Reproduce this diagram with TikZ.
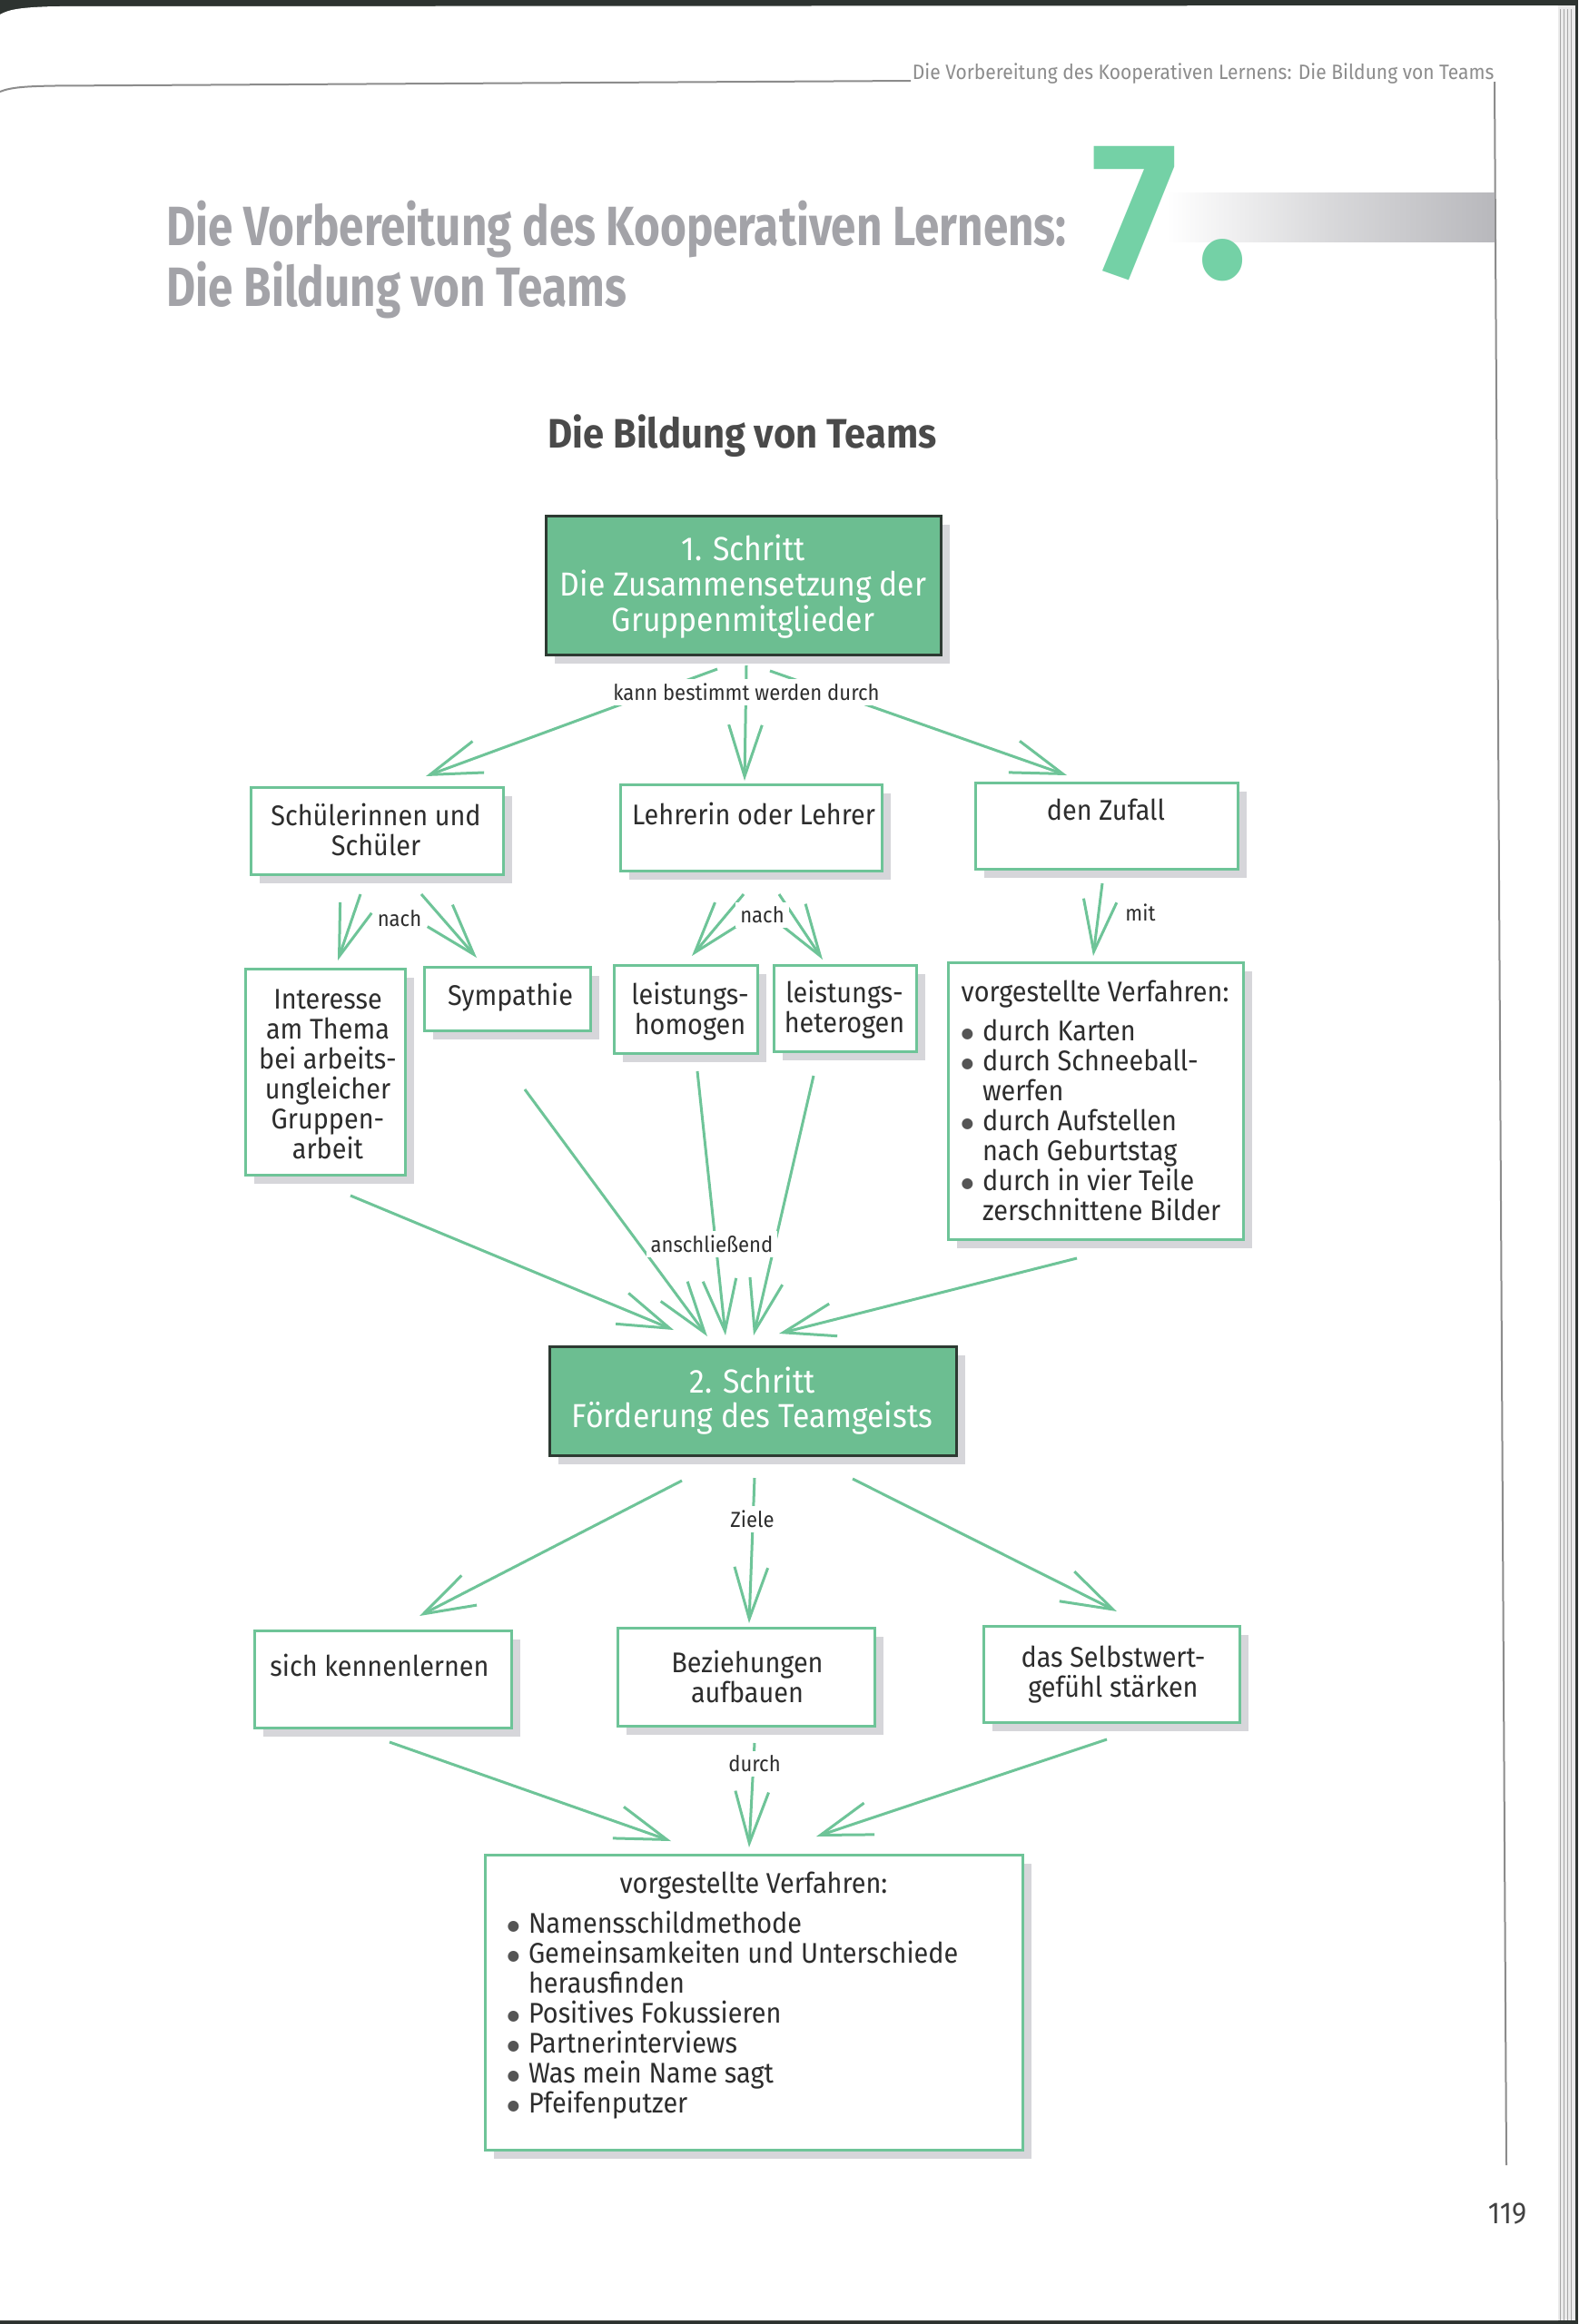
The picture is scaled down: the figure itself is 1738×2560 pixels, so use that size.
\documentclass[tikz,border=0pt]{standalone}
\usepackage{fontspec}
\usepackage{graphicx}
\setmainfont{Fira Sans}
\newfontfamily\bodyfont[FakeStretch=0.92]{Fira Sans}
\newfontfamily\titlefont[FakeStretch=0.81]{Fira Sans}
\newfontfamily\sevenfont[FakeStretch=0.95]{Fira Sans}
\newfontfamily\symfont{DejaVu Sans}
\usetikzlibrary{arrows.meta,shadows,fit}
\definecolor{boxgreen}{RGB}{108,190,145}
\definecolor{lgreen}{RGB}{110,196,152}
\definecolor{sevengreen}{RGB}{116,209,166}
\definecolor{darkb}{RGB}{45,58,50}
\definecolor{txtcol}{RGB}{45,45,45}
\definecolor{bulcol}{RGB}{85,85,85}
\definecolor{titlegray}{RGB}{163,163,168}
\definecolor{headgray}{RGB}{74,74,74}
\definecolor{shadowgray}{RGB}{214,214,218}
\definecolor{bargray}{RGB}{184,184,188}
\definecolor{rulegray}{RGB}{140,140,140}
\definecolor{scanbg}{RGB}{45,51,48}
\newcommand\mybul{\makebox[7pt][l]{\raisebox{0.9pt}{\textcolor{bulcol}{\symfont\fontsize{4.7pt}{4.7pt}\selectfont ●}}}}
\newcommand\myind{\hspace*{7pt}}
\tikzset{
  shadowed/.style={drop shadow={shadow xshift=3pt, shadow yshift=-3pt, fill=shadowgray, opacity=1}},
  wbox/.style={draw=lgreen, line width=0.9pt, fill=white, inner sep=0pt, shadowed},
  gbox/.style={draw=darkb, line width=0.9pt, fill=boxgreen, inner sep=0pt, shadowed},
  steptxt/.style={font=\bodyfont\fontsize{11pt}{11.6pt}\selectfont, text=white, align=center, inner sep=0pt},
  boxtxt/.style={font=\bodyfont\fontsize{9.4pt}{9.9pt}\selectfont, text=txtcol, align=center, inner sep=0pt},
  listtxt/.style={font=\bodyfont\fontsize{9.4pt}{9.9pt}\selectfont, text=txtcol, align=left, inner sep=0pt, anchor=west},
  lbl/.style={font=\bodyfont\fontsize{7.2pt}{8pt}\selectfont, text=txtcol, fill=white, inner sep=1.5pt},
  arr/.style={draw=lgreen, line width=0.9pt, -{Straight Barb[length=17pt,width=11pt,line width=0.9pt]}},
}
\begin{document}
\begin{tikzpicture}[x=0.3pt,y=-0.3pt]
\useasboundingbox (0,0) rectangle (1738,2560);
% scan background and page
\fill[scanbg] (0,0) rectangle (1738,2560);
\fill[white] (0,16) .. controls (10,10) and (25,8) .. (60,7) -- (1716,6) -- (1716,2556) -- (0,2556) -- cycle;
\fill[black!8] (1716,6) rectangle (1735,2556);
\foreach \xx in {1718,1722,1726,1730}
  \draw[black!35, line width=0.25pt] (\xx,10) -- (\xx,2556);
% header rule and text
\draw[rulegray, line width=0.6pt] (0,101) .. controls (12,96) and (30,95) .. (60,94.5) -- (1003,89);
\draw[rulegray, line width=0.6pt] (1646,90) -- (1659,2385);
\node[font=\bodyfont\fontsize{6.85pt}{8pt}\selectfont, text=rulegray, anchor=base east, inner sep=0pt] (hdr) at (1646,87) {Die Vorbereitung des Kooperativen Lernens: Die Bildung von Teams};
% chapter title
\shade[left color=white, right color=bargray, middle color=bargray!55] (1285,212) rectangle (1646,266);
\node[font=\sevenfont\bfseries\fontsize{64pt}{64pt}\selectfont, text=sevengreen, anchor=base west, inner sep=0pt] (seven) at (1202,305) {7\kern6pt\scalebox{1.2}{.}};
\node[font=\titlefont\bfseries\fontsize{18.3pt}{20pt}\selectfont, text=titlegray, anchor=base west, inner sep=0pt] (title1) at (183,270) {Die Vorbereitung des Kooperativen Lernens:};
\node[font=\titlefont\bfseries\fontsize{18.3pt}{20pt}\selectfont, text=titlegray, anchor=base west, inner sep=0pt] (title2) at (183,337) {Die Bildung von Teams};
\node[font=\bodyfont\bfseries\fontsize{13.6pt}{15pt}\selectfont, text=headgray, anchor=base, inner sep=0pt] (heading) at (817.5,493) {Die Bildung von Teams};
\node[font=\bodyfont\fontsize{10pt}{10pt}\selectfont, text=txtcol!90, inner sep=0pt] (pnum) at (1660,2439) {119};

% ---------- boxes ----------
\node[gbox, fit={(601,568) (1036,721)}] (S1) {};
\node[steptxt] (S1t) at (818.5,646) {1. Schritt\\Die Zusammensetzung der\\Gruppenmitglieder};

\node[wbox, fit={(276,867) (554,963)}] (A) {};
\node[boxtxt] (At) at (414,914) {Schülerinnen und\\Schüler};
\node[wbox, fit={(683,864) (971,959)}] (B) {};
\node[boxtxt] (Bt) at (830,896) {Lehrerin oder Lehrer};
\node[wbox, fit={(1074,862) (1363,957)}] (C) {};
\node[boxtxt] (Ct) at (1218,892) {den Zufall};

\node[wbox, fit={(270,1067) (446,1294)}] (D) {};
\node[boxtxt] (Dt) at (361,1183) {Interesse\\am Thema\\bei arbeits-\\ungleicher\\Gruppen-\\arbeit};
\node[wbox, fit={(467,1065) (650,1135)}] (E) {};
\node[boxtxt] (Et) at (562,1099) {Sympathie};
\node[wbox, fit={(676,1063) (834,1160)}] (F) {};
\node[boxtxt] (Ft) at (760,1114) {leistungs-\\homogen};
\node[wbox, fit={(852,1063) (1009,1158)}] (G) {};
\node[boxtxt] (Gt) at (930,1112) {leistungs-\\heterogen};
\node[wbox, fit={(1044,1060) (1369,1365)}] (H) {};
\node[listtxt] (Ht) at (1058,1212) {vorgestellte Verfahren:\\[3pt]\mybul durch Karten\\\mybul durch Schneeball-\\\myind werfen\\\mybul durch Aufstellen\\\myind nach Geburtstag\\\mybul durch in vier Teile\\\myind zerschnittene Bilder};

\node[gbox, fit={(605,1483) (1053,1603)}] (S2) {};
\node[steptxt] (S2t) at (828.5,1543) {2. Schritt\\Förderung des Teamgeists};

\node[wbox, fit={(280,1796) (563,1903)}] (I) {};
\node[boxtxt] (It) at (418,1834) {sich kennenlernen};
\node[wbox, fit={(680,1793) (963,1901)}] (J) {};
\node[boxtxt] (Jt) at (823,1847) {Beziehungen\\aufbauen};
\node[wbox, fit={(1083,1791) (1365,1897)}] (K) {};
\node[boxtxt] (Kt) at (1226,1845) {das Selbstwert-\\gefühl stärken};

\node[wbox, fit={(534,2043) (1126,2368)}] (L) {};
\node[boxtxt] (Lh) at (830,2077) {vorgestellte Verfahren:};
\node[listtxt] (Lt) at (558,2220) {\mybul Namensschildmethode\\\mybul Gemeinsamkeiten und Unterschiede\\\myind herausfinden\\\mybul Positives Fokussieren\\\mybul Partnerinterviews\\\mybul Was mein Name sagt\\\mybul Pfeifenputzer};

% ---------- connector coordinates ----------
\coordinate (s1l) at (790,737);  \coordinate (s1m) at (822,733);  \coordinate (s1r) at (848,739);
\coordinate (aT) at (469,855);   \coordinate (bT) at (820,860);   \coordinate (cT) at (1175,854);
\coordinate (aL) at (397,985);   \coordinate (aR) at (464,985);
\coordinate (dT) at (372,1058);  \coordinate (eT) at (525,1055);
\coordinate (bL) at (819,985);   \coordinate (bR) at (858,985);
\coordinate (fT) at (762,1053);  \coordinate (gT) at (906,1057);
\coordinate (cB) at (1214,973);  \coordinate (hT) at (1204,1053);
\coordinate (dB) at (386,1317);  \coordinate (eB) at (578,1200);  \coordinate (fB) at (768,1180);
\coordinate (gB) at (896,1185);  \coordinate (hB) at (1186,1386);
\coordinate (s2a) at (742,1465); \coordinate (s2b) at (779,1472); \coordinate (s2c) at (799,1471);
\coordinate (s2d) at (830,1471); \coordinate (s2e) at (858,1469);
\coordinate (s2l) at (751,1631); \coordinate (s2m) at (831,1628); \coordinate (s2r) at (939,1629);
\coordinate (iT) at (462,1780);  \coordinate (jT) at (825,1788);  \coordinate (kT) at (1230,1775);
\coordinate (iB) at (429,1919);  \coordinate (jB) at (831,1920);  \coordinate (kB) at (1219,1916);
\coordinate (lT1) at (739,2028); \coordinate (lT2) at (825,2035); \coordinate (lT3) at (899,2023);

% ---------- connectors ----------
\draw[arr] (s1l) -- (aT);
\draw[arr] (s1m) -- (bT);
\draw[arr] (s1r) -- (cT);
\draw[arr] (aL) -- (dT);
\draw[arr] (aR) -- (eT);
\draw[arr] (bL) -- (fT);
\draw[arr] (bR) -- (gT);
\draw[arr] (cB) -- (hT);
\draw[arr] (dB) -- (s2a);
\draw[arr] (eB) -- (s2b);
\draw[arr] (fB) -- (s2c);
\draw[arr] (gB) -- (s2d);
\draw[arr] (hB) -- (s2e);
\draw[arr] (s2l) -- (iT);
\draw[arr] (s2m) -- (jT);
\draw[arr] (s2r) -- (kT);
\draw[arr] (iB) -- (lT1);
\draw[arr] (jB) -- (lT2);
\draw[arr] (kB) -- (lT3);

% ---------- labels ----------
\node[lbl] (l1) at (822,762) {kann bestimmt werden durch};
\node[lbl] (l2) at (440,1012) {nach};
\node[lbl] (l3) at (839.5,1008) {nach};
\node[lbl] (l4) at (1256,1005) {mit};
\node[lbl] (l5) at (784,1370) {anschließend};
\node[lbl] (l6) at (828.5,1673) {Ziele};
\node[lbl] (l7) at (831,1943) {durch};
\end{tikzpicture}
\end{document}
